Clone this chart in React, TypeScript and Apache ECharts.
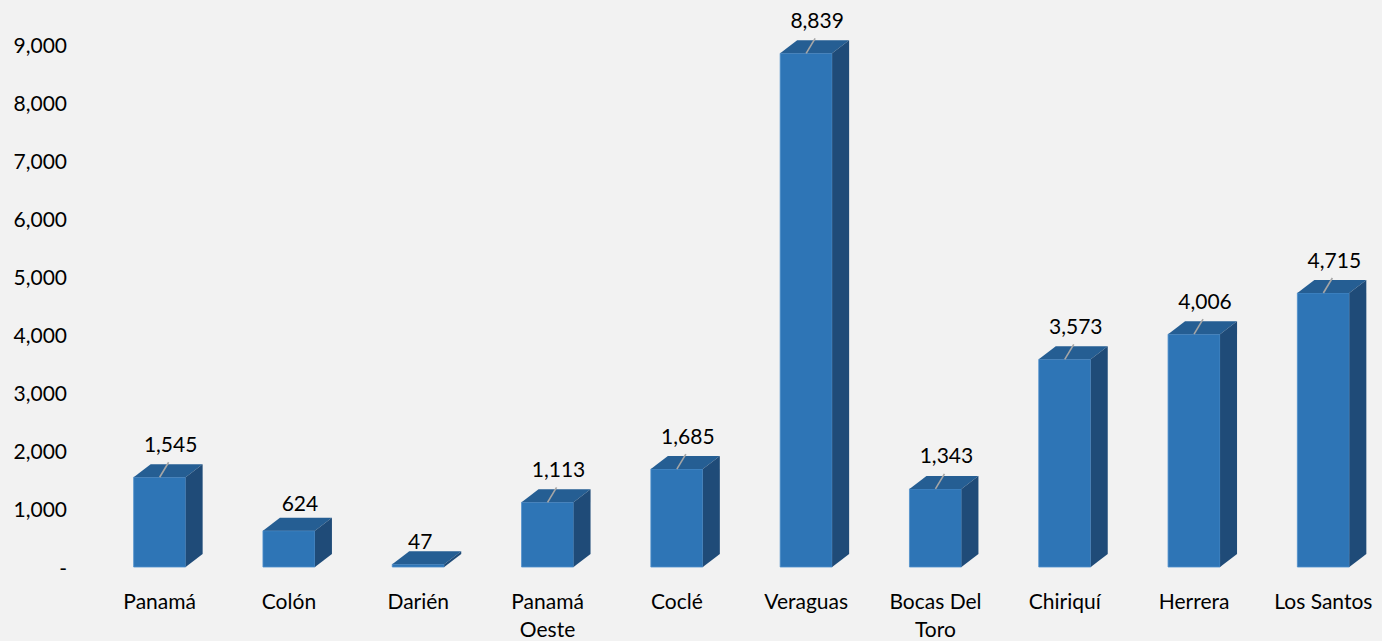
import React, { useEffect, useRef } from "react";
import * as echarts from "echarts";

const categories = [
  "Panamá",
  "Colón",
  "Darién",
  "Panamá\nOeste",
  "Coclé",
  "Veraguas",
  "Bocas Del\nToro",
  "Chiriquí",
  "Herrera",
  "Los Santos",
];
const values = [1545, 624, 47, 1113, 1685, 8839, 1343, 3573, 4006, 4715];
const yTicks = { min: 0, max: 9000, interval: 1000 };

const FONT = "Lato, 'Open Sans', sans-serif";
const FRONT = "#2E75B6";
const TOP = "#255E93";
const SIDE = "#1F4B78";

export default function App() {
  const ref = useRef<HTMLDivElement>(null);
  useEffect(() => {
    document.body.style.margin = "0";
    document.body.style.background = "#F2F2F2";
    const chart = echarts.init(ref.current!, null, { renderer: "svg" });
    const fmt = (v: number) => (v === 0 ? "-" : v.toLocaleString("en-US"));
    chart.setOption({
      animation: false,
      backgroundColor: "#F2F2F2",
      grid: { left: 95, width: 1293, top: 44, bottom: 74, outerBoundsMode: "none", containLabel: false },
      xAxis: {
        type: "category",
        data: categories,
        axisLine: { show: false },
        axisTick: { show: false },
        axisLabel: {
          interval: 0,
          margin: 19,
          color: "#000",
          fontFamily: FONT,
          fontSize: 21,
          lineHeight: 28,
        },
      },
      yAxis: {
        type: "value",
        min: yTicks.min,
        max: yTicks.max,
        interval: yTicks.interval,
        splitLine: { show: false },
        axisLine: { show: false },
        axisTick: { show: false },
        axisLabel: {
          margin: 28,
          color: "#000",
          fontFamily: FONT,
          fontSize: 21,
          formatter: fmt,
        },
      },
      series: [
        {
          type: "custom",
          data: values.map((v, i) => [i, v]),
          encode: { x: 0, y: 1 },
          clip: false,
          renderItem: (params: any, api: any) => {
            const idx = api.value(0);
            const val = api.value(1);
            const top = api.coord([idx, val]);
            const base = api.coord([idx, 0]);
            const band = api.size([1, 0])[0];
            const w = band * 0.402;
            const dx = 17;
            const dy = 13;
            const x0 = top[0] - w / 2;
            const x1 = top[0] + w / 2;
            const yt = top[1];
            const yb = base[1];
            const big = val > 1000;
            const children: any[] = [
              {
                type: "polygon",
                shape: { points: [[x0, yb], [x1, yb], [x1, yt], [x0, yt]] },
                style: { fill: FRONT, stroke: "#4F8FCB", lineWidth: 0.8 },
              },
              {
                type: "polygon",
                shape: {
                  points: [[x0, yt], [x1, yt], [x1 + dx, yt - dy], [x0 + dx, yt - dy]],
                },
                style: { fill: TOP },
              },
              {
                type: "polygon",
                shape: {
                  points: [[x1, yb], [x1 + dx, yb - dy], [x1 + dx, yt - dy], [x1, yt]],
                },
                style: { fill: SIDE },
              },
            ];
            if (big) {
              children.push({
                type: "line",
                shape: { x1: top[0], y1: yt, x2: top[0] + 9, y2: yt - 15 },
                style: { stroke: "#A6A6A6", lineWidth: 1.6 },
              });
            }
            children.push({
              type: "text",
              style: {
                text: fmt(val),
                x: top[0] + (val < 100 ? 2 : 11),
                y: yt - (big ? 34 : val < 100 ? 24 : 28),
                align: "center",
                verticalAlign: "middle",
                fill: "#000",
                font: `21px ${FONT}`,
              },
            });
            return { type: "group", children };
          },
        },
      ],
    });
    return () => chart.dispose();
  }, []);
  return <div ref={ref} style={{ width: 1382, height: 641 }} />;
}
